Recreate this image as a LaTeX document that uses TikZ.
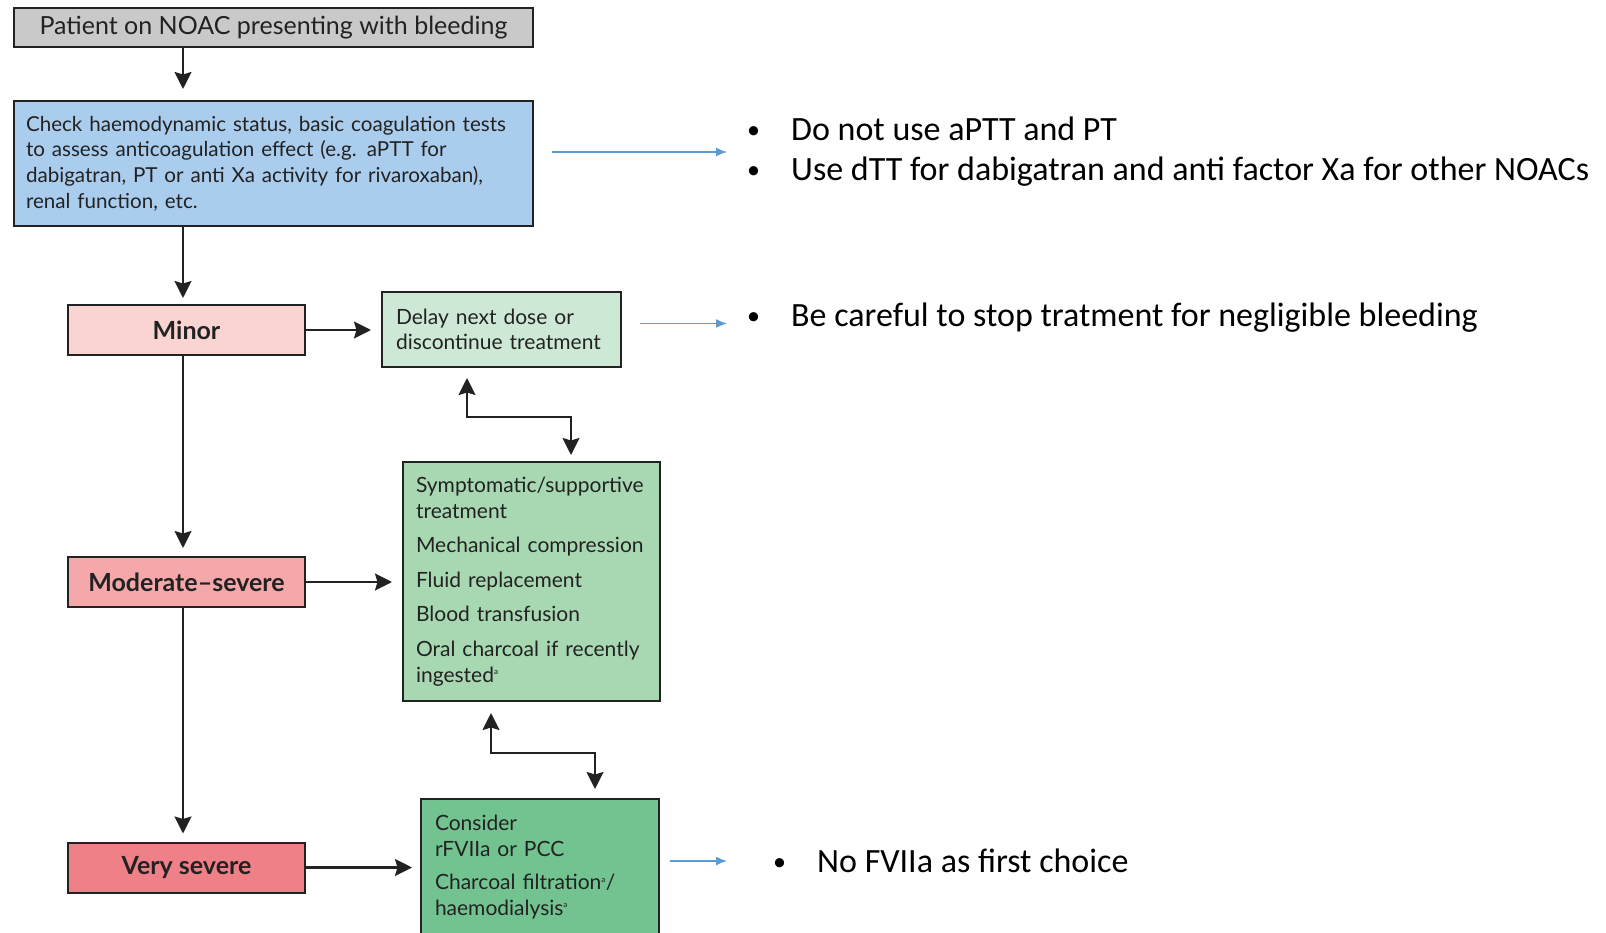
\documentclass[tikz,border=0pt]{standalone}
\usepackage{fontspec}
\setmainfont{Lato}
\newfontfamily\notefont{Carlito}
\usetikzlibrary{arrows.meta, positioning}

\definecolor{greybox}{HTML}{C9C9C9}
\definecolor{bluebox}{HTML}{AACDEE}
\definecolor{minorred}{HTML}{FAD4D3}
\definecolor{modred}{HTML}{F4A8AA}
\definecolor{sevred}{HTML}{F08087}
\definecolor{delaygreen}{HTML}{CDE9D5}
\definecolor{symgreen}{HTML}{A8D8B2}
\definecolor{considergreen}{HTML}{72C38F}
\definecolor{noteblue}{HTML}{5B9BD5}
\definecolor{inkgrey}{HTML}{222222}

\newcommand{\refmark}{\textsuperscript{\fontsize{8}{8}\selectfont a}}
\newcommand{\notebullet}{\makebox[44pt][l]{\raisebox{2pt}{\fontsize{26}{26}\selectfont\textbullet}}}

\begin{document}
\begin{tikzpicture}[x=1pt, y=-1pt, >={Stealth[length=17pt,width=17pt,inset=2.5pt]},
    box/.style={draw=inkgrey, line width=2pt, text=inkgrey, inner sep=0pt},
    headbox/.style={box, fill=greybox, minimum width=519pt, minimum height=39pt, font=\fontsize{25}{25}\selectfont},
    checkbox/.style={box, fill=bluebox, text width=495pt, inner xsep=12pt, minimum height=125pt, align=left, font=\fontsize{20.6}{25.6}\selectfont},
    level/.style={box, minimum width=237pt, minimum height=50pt, font=\fontsize{25}{25}\selectfont\bfseries},
    actbox/.style={box, align=left, inner xsep=13pt, font=\fontsize{21}{25.6}\selectfont},
    note/.style={anchor=west, inner sep=0pt, align=left, font=\notefont\fontsize{34}{40}\selectfont},
    flow/.style={->, draw=inkgrey, line width=2.3pt, shorten >=8pt},
    noteflow/.style={-{Latex[length=11pt,width=9pt]}, draw=noteblue, line width=1.5pt}]
  \useasboundingbox (0,0) rectangle (1606,933);

  % flow chart
  \node[headbox] (patient) at (273.5,28) {Patient on NOAC presenting with bleeding};
  \node[checkbox] (check) at (273.5,163.5) {Check haemodynamic status, basic coagulation tests\\
    to assess anticoagulation effect (e.g. aPTT for\\
    dabigatran, PT or anti Xa activity for rivaroxaban),\\
    renal function, etc.};
  \node[level, fill=minorred] (minor) at (186.5,330) {Minor};
  \node[level, fill=modred] (moderate) at (186.5,582) {Moderate--severe};
  \node[level, fill=sevred] (severe) at (186.5,867.5) {Very severe};

  \node[actbox, fill=delaygreen, text width=211pt, inner xsep=14pt, minimum height=75pt] (delay) at (501.5,329.5)
    {Delay next dose or\\ discontinue treatment};
  \node[actbox, fill=symgreen, text width=231pt, minimum height=239pt] (support) at (531.5,581.5)
    {Symptomatic/supportive\\ treatment\\[9pt]
     Mechanical compression\\[9pt]
     Fluid replacement\\[9pt]
     Blood transfusion\\[9pt]
     Oral charcoal if recently\\ ingested\refmark};
  \node[actbox, fill=considergreen, text width=210pt, inner xsep=14pt, minimum height=136pt] (consider) at (540,867)
    {Consider\\ rFVIIa or PCC\\[8pt]
     Charcoal filtration\refmark/\\ haemodialysis\refmark};

  % remarks
  \node[note] (labnote) at (747,152)
    {\notebullet Do not use aPTT and PT\\
     \notebullet Use dTT for dabigatran and anti factor Xa for other NOACs};
  \node[note] (stopnote) at (747,318)
    {\notebullet Be careful to stop tratment for negligible bleeding};
  \node[note] (fviinote) at (773,861)
    {\notebullet No FVIIa as first choice};

  % connectors
  \coordinate (spine) at (183,0);
  \draw[flow, shorten >=11pt] (patient.south -| spine) -- (check.north -| spine);
  \draw[flow, shorten >=6pt] (check.south -| spine) -- (minor.north -| spine);
  \draw[flow] (minor.south -| spine) -- (moderate.north -| spine);
  \draw[flow] (moderate.south -| spine) -- (severe.north -| spine);

  \draw[flow, shorten >=10pt] (minor.east) -- (minor.east -| delay.west);
  \draw[flow, shorten >=10pt] (moderate.east) -- (moderate.east -| support.west);
  \draw[flow] (severe.east) -- (severe.east -| consider.west);

  \draw[flow, <->, shorten <=10pt, shorten >=6pt] ([xshift=-34.5pt]delay.south) -- ++(0,49) -| ([xshift=39.5pt]support.north);
  \draw[flow, <->, shorten <=11pt, shorten >=9pt] ([xshift=-40.5pt]support.south) -- ++(0,51) -| ([xshift=55pt]consider.north);

  \draw[noteflow, shorten <=18pt, shorten >=20pt] (check.east |- labnote.west) -- (labnote.west);
  \draw[noteflow, shorten <=18pt, shorten >=20pt] ([yshift=6pt]delay.east) -- ([yshift=6pt]delay.east -| stopnote.west);
  \draw[noteflow, shorten <=10pt, shorten >=46pt] (consider.east |- fviinote.west) -- (fviinote.west);
\end{tikzpicture}
\end{document}
